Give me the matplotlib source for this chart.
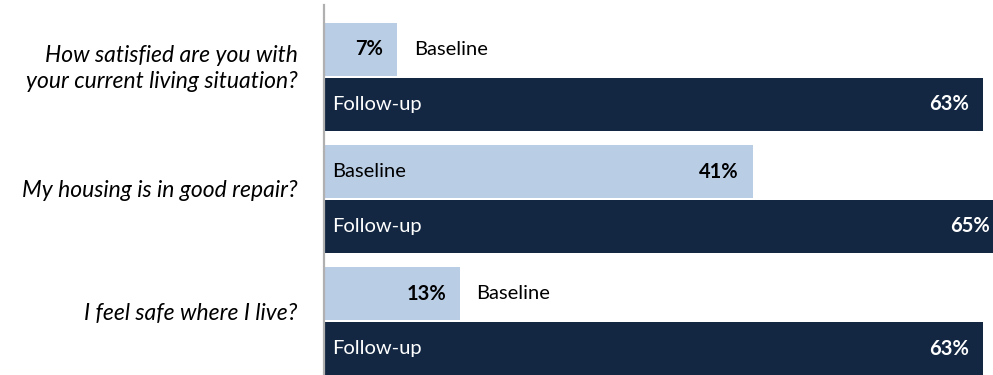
import matplotlib.pyplot as plt
import numpy as np

questions = ['How satisfied are you with\nyour current living situation?',
             'My housing is in good repair?',
             'I feel safe where I live?']
baseline = [7, 41, 13]
followup = [63, 65, 63]

light = '#b9cde5'
dark = '#132742'

plt.rcParams['font.family'] = ['Lato', 'DejaVu Sans']

fig = plt.figure(figsize=(9.93, 3.75), dpi=100)
ax = fig.add_axes([324 / 993, 0, 669 / 993, 370 / 375])

y = np.arange(len(questions))
off = 0.2245
h = 0.433
fs = 14.5

ax.barh(y - off, baseline, height=h, color=light)
ax.barh(y + off, followup, height=h, color=dark)

for i, (b, f) in enumerate(zip(baseline, followup)):
    # baseline: name inside if the bar is wide enough, else outside
    ax.annotate('{}%'.format(b), xy=(b, i - off), xytext=(-10, 0), textcoords='offset points',
                ha='right', va='center', fontsize=fs, fontweight='bold', color='black')
    if b > 20:
        ax.annotate('Baseline', xy=(0, i - off), xytext=(6, 0), textcoords='offset points',
                    ha='left', va='center', fontsize=fs, color='black')
    else:
        ax.annotate('Baseline', xy=(b, i - off), xytext=(12, 0), textcoords='offset points',
                    ha='left', va='center', fontsize=fs, color='black')
    ax.annotate('Follow-up', xy=(0, i + off), xytext=(6, 0), textcoords='offset points',
                ha='left', va='center', fontsize=fs, color='white')
    ax.annotate('{}%'.format(f), xy=(f, i + off), xytext=(-10, 0), textcoords='offset points',
                ha='right', va='center', fontsize=fs, fontweight='bold', color='white',
                annotation_clip=False)

    ax.annotate(questions[i], xy=(0, i), xycoords=('axes fraction', 'data'),
                xytext=(-19, 6), textcoords='offset points', ha='right', va='center',
                fontsize=16.5, style='italic', linespacing=1.3, annotation_clip=False)

ax.set_xlim(0, 64)
ax.set_ylim(2.437, -0.584)
ax.set_xticks([])
ax.set_yticks([])
for s in ['top', 'right', 'bottom']:
    ax.spines[s].set_visible(False)
ax.spines['left'].set_color('#b0b0b0')
ax.spines['left'].set_linewidth(1.6)

fig.savefig('out.png', dpi=100)
